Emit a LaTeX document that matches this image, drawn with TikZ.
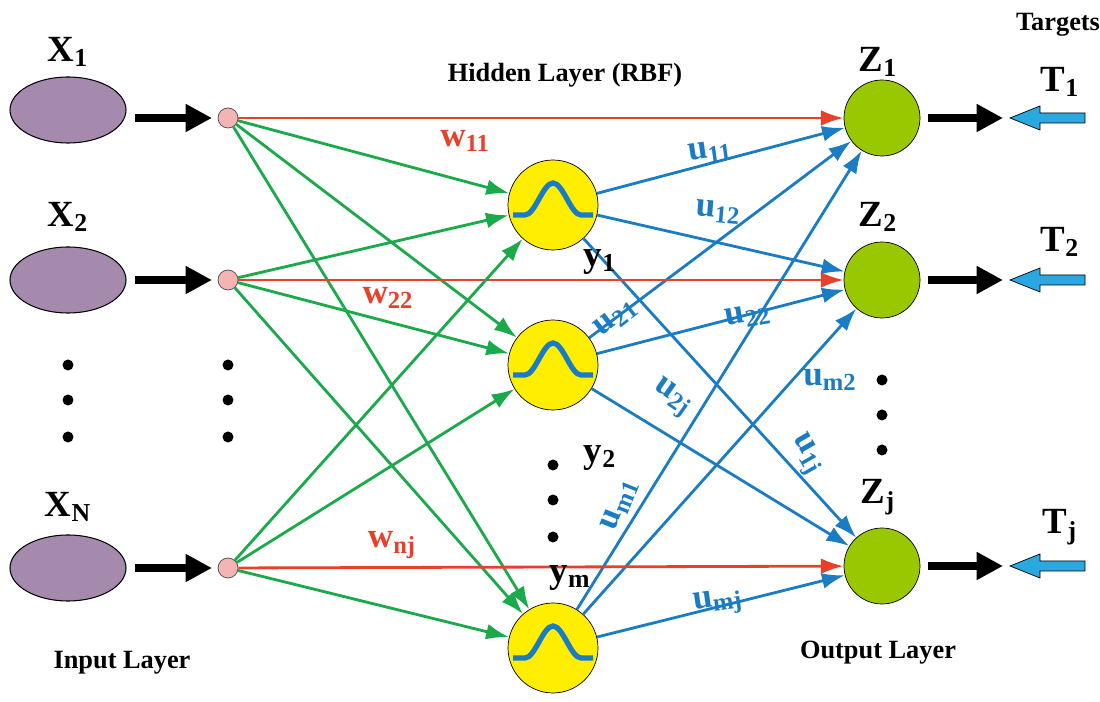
\documentclass[tikz,border=0pt]{standalone}
\usepackage{fontspec}
\setmainfont{Liberation Serif}
\usetikzlibrary{arrows.meta}
\definecolor{pur}{HTML}{A58AAE}
\definecolor{pnk}{HTML}{F4B4B4}
\definecolor{ylw}{HTML}{FFEE00}
\definecolor{grn}{HTML}{99C800}
\definecolor{rd}{HTML}{E8402A}
\definecolor{gr}{HTML}{1AAA4A}
\definecolor{bl}{HTML}{1A7CC4}
\definecolor{tb}{HTML}{2AA8E0}
\begin{document}
\begin{tikzpicture}[x=0.02cm,y=-0.02cm,font=\bfseries,
 el/.style={draw=black,fill=pur,line width=0.6pt},
 sm/.style={circle,draw=black!70,fill=pnk,minimum size=0.4cm,inner sep=0},
 hid/.style={circle,draw=black,fill=ylw,minimum size=1.8cm,inner sep=0},
 onode/.style={circle,draw=black,fill=grn,minimum size=1.52cm,inner sep=0},
 ra/.style={draw=rd,line width=1.6pt,-{Latex[length=13pt,width=9pt]}},
 ga/.style={draw=gr,line width=1.6pt,-{Latex[length=13pt,width=9pt]}},
 ba/.style={draw=bl,line width=1.6pt,-{Latex[length=13pt,width=9pt]}},
 ka/.style={line width=4.5pt,-{Triangle[length=15pt,width=15pt]}},
 ta/.style={draw=black,fill=tb,line width=0.4pt},
 lab/.style={font=\bfseries\fontsize{21}{21}\selectfont},
 wl/.style={font=\bfseries\fontsize{20}{20}\selectfont,text=rd},
 ul/.style={font=\bfseries\fontsize{20}{20}\selectfont,text=bl},
 ttl/.style={font=\bfseries\fontsize{15}{15}\selectfont},
 dot/.style={circle,fill=black,minimum size=0.22cm,inner sep=0}]
\useasboundingbox (0,0) rectangle (1100,702);
% input ellipses
\foreach \n/\y/\e in {1/118/110,2/280/280,3/568/568}{
 \filldraw[el] (68,\e) ellipse [x radius=58, y radius=33];
 \node[sm] (s\n) at (228,\y) {};
 \coordinate (ka\n) at (135,\y);
 \coordinate (kb\n) at (212,\y);
 \draw[ka] (ka\n) -- (kb\n);
}
\node[hid] (h1) at (553,205) {};
\node[hid] (h2) at (553,365) {};
\node[hid] (h3) at (553,648) {};
\node[onode] (o1) at (882,118) {};
\node[onode] (o2) at (882,280) {};
\node[onode] (o3) at (882,566) {};
\foreach \h in {1,2,3}{
 \draw[bl,line width=3pt] ([shift={(-40,10)}]h\h.center) -- ++(12,0) .. controls ++(10,0) and ++(-10,0) .. ++(28,-32) .. controls ++(10,0) and ++(-10,0) .. ++(28,32) -- ++(12,0);
}
% connectors
\foreach \i in {1,2,3}{
 \foreach \j in {1,2,3}{
  \draw[ga] (s\i) -- (h\j);
  \draw[ba] (h\i) -- (o\j);
 }
 \draw[ra] (s\i) -- (o\i);
}
% output arrows and targets
\foreach \n/\y in {1/118,2/280,3/566}{
 \coordinate (oa\n) at (928,\y);
 \coordinate (ob\n) at (1003,\y);
 \draw[ka] (oa\n) -- (ob\n);
 \filldraw[ta] (1085,\y-5) -- (1040,\y-5) -- (1040,\y-12) -- (1010,\y) -- (1040,\y+12) -- (1040,\y+5) -- (1085,\y+5) -- cycle;
}
% dots
\foreach \y in {365,400,437}{\node[dot] at (68,\y) {}; \node[dot] at (228,\y) {};}
\foreach \y in {465,500,537}{\node[dot] at (553,\y) {};}
\foreach \y in {380,415,450}{\node[dot] at (882,\y) {};}
% labels
\node[lab] at (68,52) {X\textsubscript{1}};
\node[lab] at (68,217) {X\textsubscript{2}};
\node[lab] at (68,507) {X\textsubscript{N}};
\node[lab] at (878,62) {Z\textsubscript{1}};
\node[lab] at (878,217) {Z\textsubscript{2}};
\node[lab] at (878,497) {Z\textsubscript{j}};
\node[lab] at (1060,82) {T\textsubscript{1}};
\node[lab] at (1060,242) {T\textsubscript{2}};
\node[lab] at (1060,527) {T\textsubscript{j}};
\node[lab] at (600,262) {y\textsubscript{1}};
\node[lab] at (600,458) {y\textsubscript{2}};
\node[lab] at (570,578) {y\textsubscript{m}};
\node[ttl] at (565,75) {Hidden Layer (RBF)};
\node[ttl] at (122,663) {Input Layer};
\node[ttl] at (878,653) {Output Layer};
\node[ttl] at (1058,25) {Targets};
\node[wl] at (465,141) {w\textsubscript{11}};
\node[wl] at (388,298) {w\textsubscript{22}};
\node[wl] at (392,545) {w\textsubscript{nj}};
\node[ul,rotate=8] at (710,152) {u\textsubscript{11}};
\node[ul,rotate=-5] at (718,212) {u\textsubscript{12}};
\node[ul,rotate=38] at (616,318) {u\textsubscript{21}};
\node[ul,rotate=10] at (748,316) {u\textsubscript{22}};
\node[ul,rotate=-35] at (672,398) {u\textsubscript{2j}};
\node[ul] at (830,380) {u\textsubscript{m2}};
\node[ul,rotate=-60] at (806,455) {u\textsubscript{1j}};
\node[ul,rotate=68] at (620,505) {u\textsubscript{m1}};
\node[ul,rotate=8] at (718,603) {u\textsubscript{mj}};
\end{tikzpicture}
\end{document}
